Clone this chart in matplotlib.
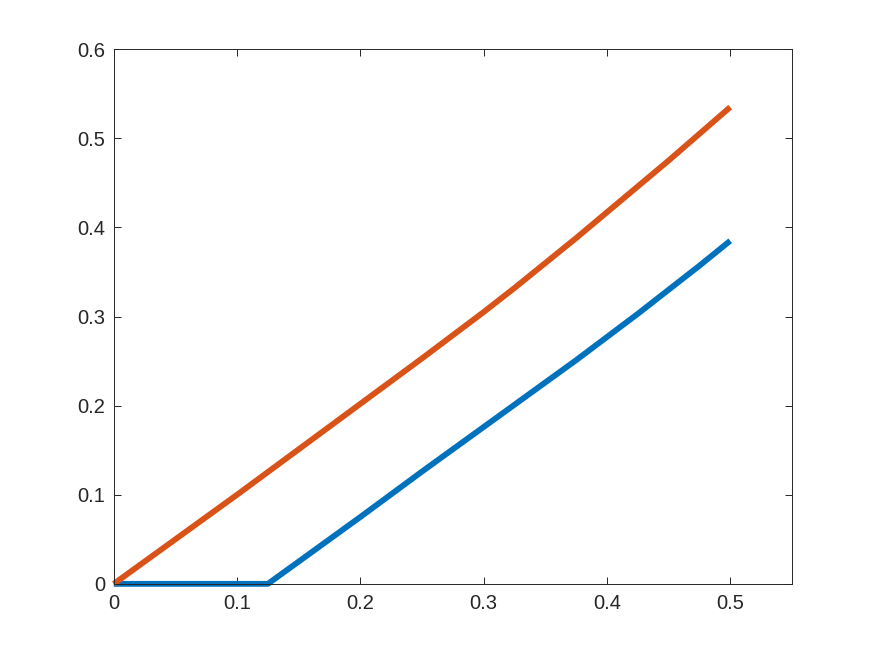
import matplotlib.pyplot as plt
import numpy as np

# values
x_orange = [0, 0.05, 0.1, 0.15, 0.2, 0.25, 0.3, 0.325, 0.35, 0.375, 0.4, 0.425, 0.45, 0.475, 0.5]
y_orange = [0, 0.05, 0.1, 0.151, 0.202, 0.253, 0.305, 0.332, 0.36, 0.388, 0.417, 0.446, 0.475, 0.505, 0.535]

x_blue = [0, 0.125, 0.15, 0.2, 0.25, 0.3, 0.35, 0.375, 0.4, 0.425, 0.45, 0.475, 0.5]
y_blue = [0, 0, 0.025, 0.075, 0.126, 0.176, 0.226, 0.251, 0.277, 0.303, 0.330, 0.357, 0.385]

xticks = [0, 0.1, 0.2, 0.3, 0.4, 0.5]
yticks = [0, 0.1, 0.2, 0.3, 0.4, 0.5, 0.6]

plt.rcParams['font.family'] = ['Liberation Sans', 'DejaVu Sans']
fig = plt.figure(figsize=(8.75, 6.56), dpi=100)
ax = fig.add_axes([0.13, 0.11, 0.775, 0.815])

ax.plot(x_blue, y_blue, color='#0072BD', lw=4.2, solid_capstyle='butt',
        solid_joinstyle='round', clip_on=False)
ax.plot(x_orange, y_orange, color='#D95319', lw=4.2, solid_capstyle='butt',
        solid_joinstyle='round', clip_on=False)

ax.set_xlim(0, 0.55)
ax.set_ylim(0, 0.6)
ax.set_xticks(xticks)
ax.set_yticks(yticks)
ax.set_xticklabels(['0', '0.1', '0.2', '0.3', '0.4', '0.5'])
ax.set_yticklabels(['0', '0.1', '0.2', '0.3', '0.4', '0.5', '0.6'])

ax.tick_params(direction='in', top=True, right=True, length=5, width=0.7,
               colors='#262626', labelsize=14.5)
ax.tick_params(axis='x', pad=7)
ax.tick_params(axis='y', pad=6)
for s in ax.spines.values():
    s.set_color('#262626')
    s.set_linewidth(0.7)

fig.savefig('out.png', dpi=100)
